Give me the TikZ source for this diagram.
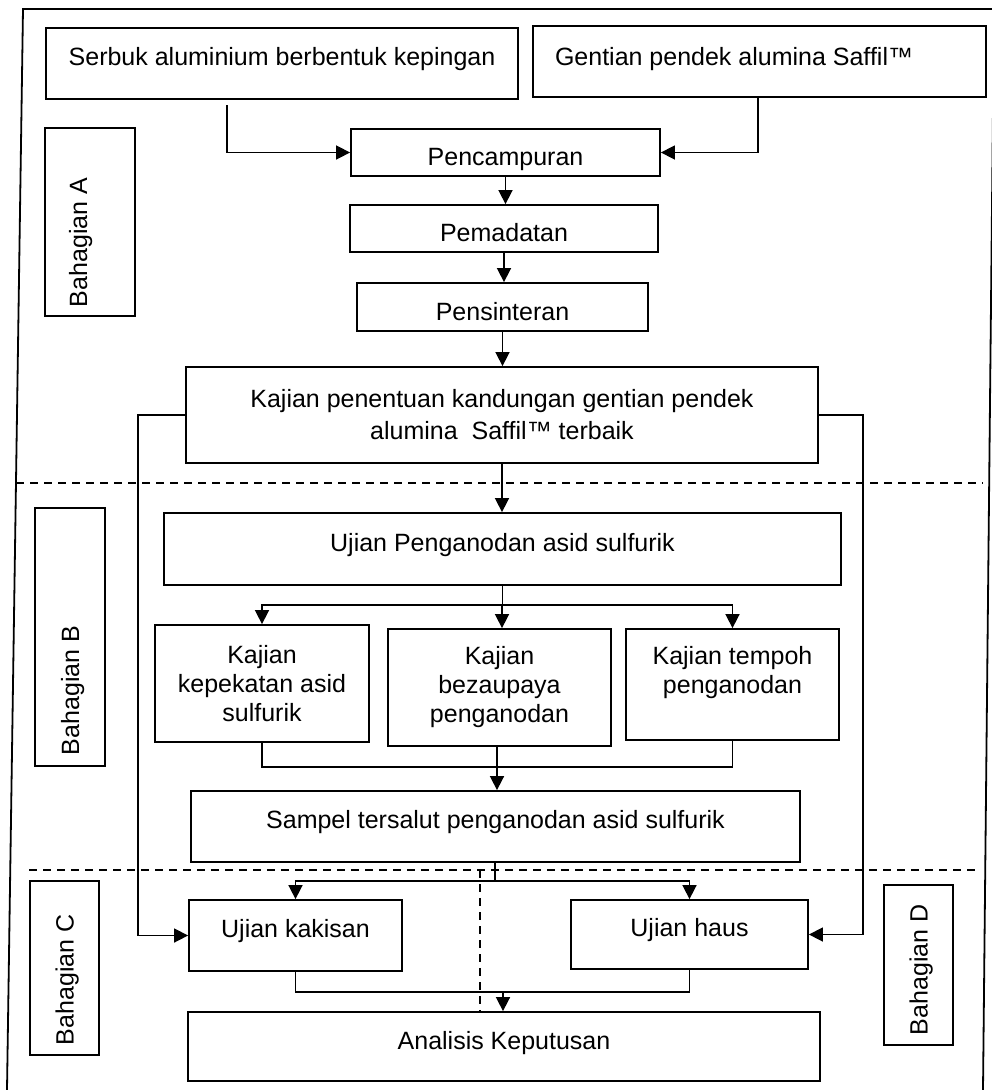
\documentclass[tikz,border=0pt]{standalone}
\usepackage{fontspec}
\setmainfont{Liberation Sans}
\usepackage{tikz}
\usetikzlibrary{arrows.meta}

\begin{document}
\begin{tikzpicture}[x=1pt,y=-1pt]
					\tikzstyle{box}=[draw, line width=1.8pt, inner sep=3pt, text height=18pt, text depth=0pt, font=\fontsize{25}{29}\selectfont]
					\tikzstyle{tallbox}=[draw, line width=1.8pt, inner sep=3pt, align=center, font=\fontsize{25}{29}\selectfont]
					\tikzstyle{side}=[box, rotate=90, inner sep=0pt]
					\tikzstyle{link}=[line width=1.6pt]
					\tikzstyle{arrow}=[link, -{Triangle[length=14pt,width=14pt]}]
					\tikzstyle{divider}=[line width=1.7pt, dash pattern=on 8pt off 6pt]
					\useasboundingbox (0,0) rectangle (992,1090);
					% outer frame, open at the bottom
					\draw [line width=1.8pt] (7,1090) -- (23,9) -- (994,9) -- (983,1090);
					% Bahagian A
					\node [box, minimum width=472pt, minimum height=71pt, text depth=15pt] (serbuk) at (282,63.5) {Serbuk aluminium berbentuk kepingan};
					\node [box, minimum width=453pt, minimum height=71pt, text depth=11pt] (gentian) at (759.5,61.5) {\makebox[409pt][l]{Gentian pendek alumina Saffil\texttrademark}};
					\node [box, minimum width=309pt, minimum height=47pt, text height=26pt] (mix) at (505.5,152.5) {Pencampuran};
					\node [box, minimum width=308pt, minimum height=47pt, text height=26pt] (padat) at (504,228.5) {Pemadatan};
					\node [box, minimum width=291pt, minimum height=48pt, text height=26pt] (sinter) at (502.5,307) {Pensinteran};
					\node [tallbox, minimum width=632pt, minimum height=96pt] (kajian) at (502,415) {Kajian penentuan kandungan gentian pendek\\[3pt]alumina~ Saffil\texttrademark{} terbaik};
					% Bahagian B
					\node [box, minimum width=677pt, minimum height=72pt, text depth=14pt] (ujian) at (502.5,549) {Ujian Penganodan asid sulfurik};
					\node [tallbox, minimum width=214pt, minimum height=117pt] (kepekatan) at (262,683.5) {Kajian\\kepekatan asid\\sulfurik};
					\node [tallbox, minimum width=223pt, minimum height=117pt] (bezaupaya) at (499.5,687.5) {Kajian\\bezaupaya\\penganodan};
					\node [tallbox, minimum width=213pt, minimum height=111pt] (tempoh) at (732.5,684.5) {Kajian tempoh\\penganodan\\\mbox{}};
					\node [box, minimum width=609pt, minimum height=71pt, text depth=15pt] (sampel) at (495.5,826.5) {Sampel tersalut penganodan asid sulfurik};
					% Bahagian C and D
					\node [box, minimum width=213pt, minimum height=71pt, text depth=14pt] (kakisan) at (295.5,935.5) {Ujian kakisan};
					\node [box, minimum width=237pt, minimum height=69pt, text depth=14pt] (haus) at (689.5,934.5) {Ujian haus};
					\node [box, minimum width=632pt, minimum height=69pt, text depth=13pt] (analisis) at (504,1046.5) {Analisis Keputusan};
					% part labels
					\node [side, minimum width=188pt, minimum height=90pt, text depth=24pt] (partA) at (90,222) {\makebox[170pt][l]{Bahagian A}};
					\node [side, minimum width=258pt, minimum height=70pt] (partB) at (70,637) {\makebox[236pt][l]{Bahagian B}};
					\node [side, minimum width=174pt, minimum height=69pt] (partC) at (64.5,968) {\makebox[154pt][l]{Bahagian C}};
					\node [side, minimum width=160pt, minimum height=69pt] (partD) at (918.5,965) {\makebox[140pt][l]{Bahagian D}};
					% dividers
					\draw [divider] (16,483) -- (983,483);
					\draw [divider] (29,870) -- (980,870);
					\draw [divider] (480,870) -- (analisis.north -| 480,0);
					% connectors
					\coordinate (serbukout) at (227,105);
					\draw [arrow] (serbukout) |- (mix.west);
					\draw [arrow] (gentian.south -| 758,0) |- (mix.east);
					\draw [arrow] (mix.south) -- (mix.south |- padat.north);
					\draw [arrow] (padat.south) -- (padat.south |- sinter.north);
					\draw [arrow] (sinter.south) -- (sinter.south |- kajian.north);
					\draw [arrow] (kajian.south) -- (kajian.south |- ujian.north);
					\draw [arrow] (kajian.west) -- (kajian.west -| 138,0) |- (kakisan.west);
					\draw [arrow] (kajian.east) -- (kajian.east -| 863,0) |- (haus.east);
					\coordinate (split1) at (502,605);
					\draw [link] (ujian.south) -- (ujian.south |- split1);
					\draw [arrow] (split1) -| (kepekatan.north);
					\draw [arrow] (split1) -| (tempoh.north);
					\draw [arrow] (split1) -- (split1 |- bezaupaya.north);
					\coordinate (join1) at (497,767);
					\draw [link] (kepekatan.south) |- (join1);
					\draw [link] (tempoh.south) |- (join1);
					\draw [arrow] (bezaupaya.south -| join1) -- (sampel.north -| join1);
					\coordinate (split2) at (495,881);
					\draw [link] (sampel.south -| split2) -- (split2);
					\draw [arrow] (split2) -| (kakisan.north);
					\draw [arrow] (split2) -| (haus.north);
					\coordinate (join2) at (503,992);
					\draw [link] (kakisan.south) |- (join2);
					\draw [link] (haus.south) |- (join2);
					\draw [arrow] (join2) -- (join2 |- analisis.north);
				\end{tikzpicture}
\end{document}
